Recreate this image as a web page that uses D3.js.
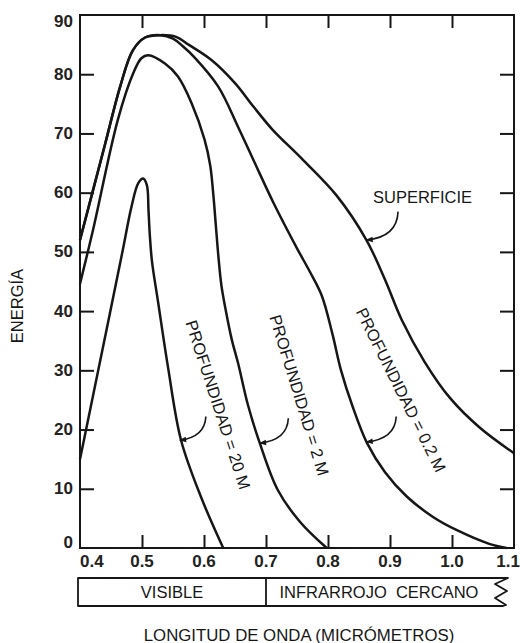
<!DOCTYPE html>
<html>
<head>
<meta charset="utf-8">
<script src="https://cdn.jsdelivr.net/npm/d3@7"></script>
<style>
  body { margin: 0; background: #fff; }
  svg { display: block; font-family: "Liberation Sans", Arial, sans-serif; }
</style>
</head>
<body>
<svg id="chart" width="520" height="643"></svg>
<script>
// wavelength (micrometres) vs energy
var superficie = [
  [0.400, 52.0], [0.440, 68.0], [0.465, 78.0], [0.485, 84.0], [0.505, 86.2],
  [0.530, 86.6], [0.555, 86.3], [0.575, 85.0], [0.612, 82.4], [0.650, 78.5],
  [0.680, 74.5], [0.710, 70.7], [0.760, 65.5], [0.814, 59.5], [0.862, 52.0],
  [0.892, 45.3], [0.919, 38.5], [0.956, 31.4], [0.997, 25.3], [1.045, 20.3],
  [1.100, 16.0]
];
var prof02 = [
  [0.400, 52.0], [0.440, 68.0], [0.465, 78.0], [0.485, 84.0], [0.505, 86.2],
  [0.530, 86.6], [0.550, 86.0], [0.565, 84.8], [0.585, 82.8], [0.623, 77.9],
  [0.655, 71.1], [0.682, 65.0], [0.712, 58.3], [0.750, 50.6], [0.771, 46.6],
  [0.790, 42.6], [0.807, 36.2], [0.821, 30.0], [0.839, 24.1], [0.863, 17.7],
  [0.892, 12.8], [0.927, 8.7], [0.970, 5.2], [1.008, 3.0], [1.060, 0.7],
  [1.088, 0.0]
];
var prof2 = [
  [0.400, 44.6], [0.421, 53.7], [0.461, 72.3], [0.486, 80.2], [0.499, 82.7],
  [0.510, 83.2], [0.537, 81.8], [0.558, 79.6], [0.580, 75.1], [0.601, 68.9],
  [0.610, 64.6], [0.615, 59.7], [0.619, 54.6], [0.623, 49.5], [0.628, 44.4],
  [0.635, 40.2], [0.645, 35.1], [0.655, 31.2], [0.671, 24.1], [0.690, 17.7],
  [0.719, 9.8], [0.755, 4.4], [0.798, 0.0]
];
var prof20 = [
  [0.400, 15.0], [0.440, 35.4], [0.469, 50.3], [0.483, 57.6], [0.494, 61.6],
  [0.502, 62.4], [0.508, 61.2], [0.5105, 57.0], [0.5125, 53.0], [0.516, 48.5],
  [0.526, 41.5], [0.542, 30.5], [0.563, 18.2], [0.596, 8.4], [0.631, 0.0]
];

var xTicks = [0.4, 0.5, 0.6, 0.7, 0.8, 0.9, 1.0, 1.1];
var yTicks = [0, 10, 20, 30, 40, 50, 60, 70, 80, 90];

// label text, arrow start and arrow tip (data units), text centre and angle
var labels = [
  {text: "SUPERFICIE", from: [0.913, 56.8], to: [0.862, 52.0]},
  {text: "PROFUNDIDAD = 20 M", from: [0.603, 22.2], to: [0.561, 18.2], at: [0.623, 24.2], angle: 72},
  {text: "PROFUNDIDAD = 2 M", from: [0.736, 21.9], to: [0.690, 17.7], at: [0.754, 25.8], angle: 73},
  {text: "PROFUNDIDAD = 0.2 M", from: [0.910, 22.2], to: [0.862, 17.9], at: [0.918, 26.7], angle: 63.5}
];

var svg = d3.select("#chart");
var ink = "#161616";

var x = d3.scaleLinear().domain([0.4, 1.1]).range([80, 514]);
var y = d3.scaleLinear().domain([0, 90]).range([548, 15]);

var inner = function(v) { return v > 0.45 && v < 1.05; };
var innerY = function(v) { return v > 0 && v < 90; };

// inward ticks on all four sides
svg.append("g").attr("transform", "translate(0," + y(0) + ")")
  .call(d3.axisBottom(x).tickValues(xTicks.filter(inner)).tickSize(-13).tickFormat(""));
svg.append("g").attr("transform", "translate(0," + y(90) + ")")
  .call(d3.axisTop(x).tickValues(xTicks.filter(inner)).tickSize(-13).tickFormat(""));
svg.append("g").attr("transform", "translate(" + x(0.4) + ",0)")
  .call(d3.axisLeft(y).tickValues(yTicks.filter(innerY)).tickSize(-14).tickFormat(""));
svg.append("g").attr("transform", "translate(" + x(1.1) + ",0)")
  .call(d3.axisRight(y).tickValues(yTicks.filter(innerY)).tickSize(-14).tickFormat(""));
svg.selectAll(".domain").remove();
svg.selectAll(".tick line").attr("stroke", ink).attr("stroke-width", 2);

svg.append("rect")
  .attr("x", x(0.4)).attr("y", y(90))
  .attr("width", x(1.1) - x(0.4)).attr("height", y(0) - y(90))
  .attr("fill", "none").attr("stroke", ink).attr("stroke-width", 2);

// tick labels
svg.append("g").selectAll("text").data(yTicks).enter().append("text")
  .attr("x", x(0.4) - 7)
  .attr("y", function(d) { return y(d) + (d === 90 ? 6 : d === 0 ? -6 : 0); })
  .attr("text-anchor", "end").attr("dominant-baseline", "central")
  .attr("font-size", 17).attr("font-weight", "bold").attr("fill", "#222")
  .text(function(d) { return d; });

svg.append("g").selectAll("text").data(xTicks).enter().append("text")
  .attr("x", function(d) { return d === 1.1 ? 520 : x(d); })
  .attr("y", y(0) + 13)
  .attr("text-anchor", function(d) { return d === 0.4 ? "start" : d === 1.1 ? "end" : "middle"; })
  .attr("dominant-baseline", "central")
  .attr("font-size", 17).attr("font-weight", "bold").attr("fill", "#222")
  .text(d3.format(".1f"));

// curves
var line = d3.line()
  .x(function(d) { return x(d[0]); })
  .y(function(d) { return y(d[1]); })
  .curve(d3.curveCatmullRom.alpha(0.5));

svg.append("g").selectAll("path").data([superficie, prof02, prof2, prof20]).enter().append("path")
  .attr("d", line)
  .attr("fill", "none").attr("stroke", ink).attr("stroke-width", 2.5)
  .attr("stroke-linejoin", "round");

// arrows and labels
svg.append("defs").append("marker")
  .attr("id", "head").attr("viewBox", "0 -5 10 10")
  .attr("refX", 9).attr("refY", 0)
  .attr("markerWidth", 9).attr("markerHeight", 7)
  .attr("markerUnits", "userSpaceOnUse")
  .attr("orient", "auto")
  .append("path").attr("d", "M0,-4L10,0L0,4Z").attr("fill", ink);

svg.append("g").selectAll("path").data(labels).enter().append("path")
  .attr("d", function(d) {
    var x0 = x(d.from[0]), y0 = y(d.from[1]), x1 = x(d.to[0]), y1 = y(d.to[1]);
    return "M" + x0 + "," + y0 + "Q" + (x0 - 1) + "," + (y1 - 3) + " " + x1 + "," + y1;
  })
  .attr("fill", "none").attr("stroke", ink).attr("stroke-width", 1.6)
  .attr("marker-end", "url(#head)");

svg.append("text")
  .attr("x", 373).attr("y", 203)
  .attr("font-size", 16.5).attr("fill", ink)
  .text(labels[0].text);

svg.append("g").selectAll("text").data(labels.slice(1)).enter().append("text")
  .attr("transform", function(d) {
    return "translate(" + x(d.at[0]) + "," + y(d.at[1]) + ") rotate(" + d.angle + ")";
  })
  .attr("text-anchor", "middle").attr("dominant-baseline", "central")
  .attr("font-size", 16.5).attr("fill", ink)
  .text(function(d) { return d.text; });

// axis titles
svg.append("text")
  .attr("transform", "translate(17,306) rotate(-90)")
  .attr("text-anchor", "middle").attr("dominant-baseline", "central")
  .attr("font-size", 16.5).attr("fill", ink)
  .text("ENERGÍA");

svg.append("text")
  .attr("x", 299).attr("y", 635)
  .attr("text-anchor", "middle").attr("dominant-baseline", "central")
  .attr("font-size", 16.8).attr("fill", ink)
  .text("LONGITUD DE ONDA (MICRÓMETROS)");

// spectrum band under the axis
var bandTop = 578, bandBottom = 606, bandLeft = x(0.4) - 2;
svg.append("path")
  .attr("d", "M" + bandLeft + "," + bandTop + "H508L495,584L507,591L495,598L506,605" +
    "L503," + bandBottom + "H" + bandLeft + "Z")
  .attr("fill", "none").attr("stroke", ink).attr("stroke-width", 1.8)
  .attr("stroke-linejoin", "round");
svg.append("line")
  .attr("x1", x(0.7)).attr("x2", x(0.7)).attr("y1", bandTop).attr("y2", bandBottom)
  .attr("stroke", ink).attr("stroke-width", 1.8);

svg.append("text")
  .attr("x", (bandLeft + x(0.7)) / 2).attr("y", 592)
  .attr("text-anchor", "middle").attr("dominant-baseline", "central")
  .attr("font-size", 16.5).attr("fill", ink)
  .text("VISIBLE");
svg.append("text")
  .attr("x", 379).attr("y", 592)
  .attr("text-anchor", "middle").attr("dominant-baseline", "central")
  .attr("font-size", 16.5).attr("fill", ink)
  .style("white-space", "pre")
  .text("INFRARROJO  CERCANO");
</script>
</body>
</html>
